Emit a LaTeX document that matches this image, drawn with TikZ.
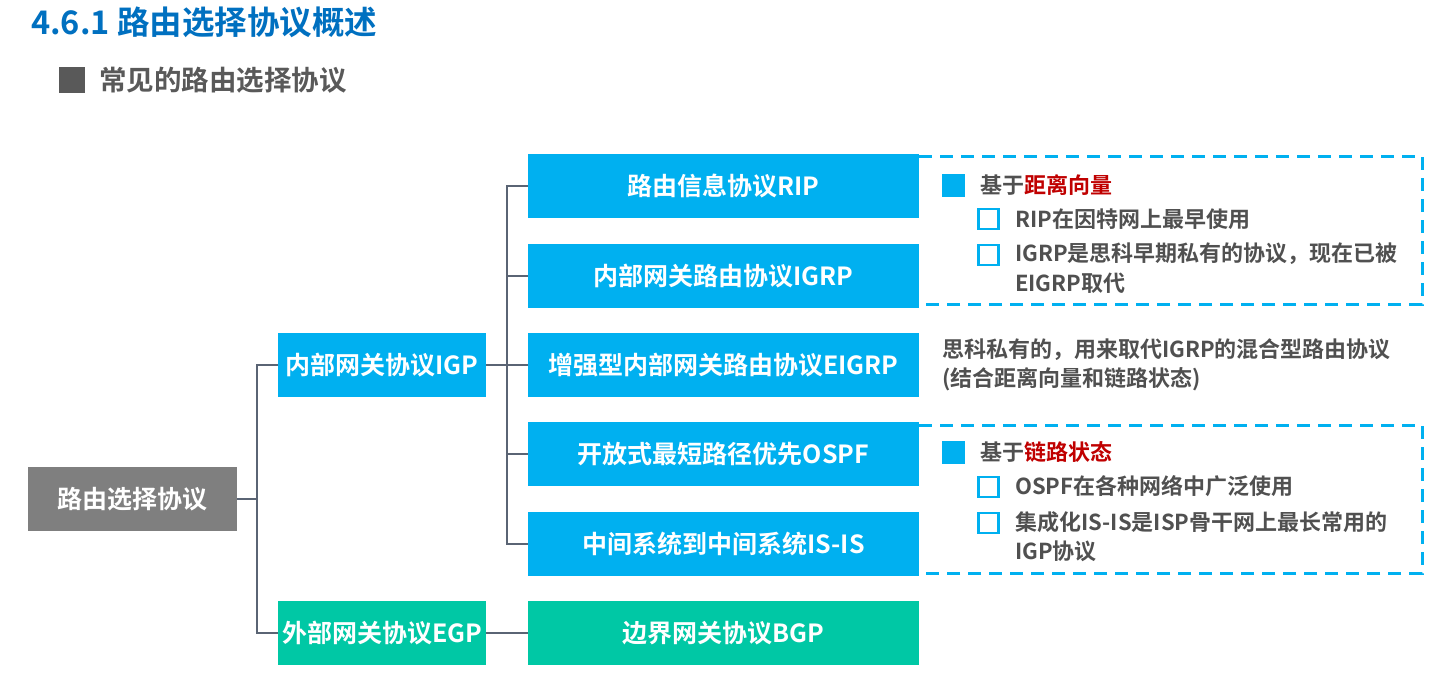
\documentclass[tikz,border=0pt]{standalone}
\usepackage{fontspec}
\setmainfont{Noto Sans CJK SC}[BoldFont={Noto Sans CJK SC Bold}]
\usetikzlibrary{positioning}
\definecolor{cyanbox}{HTML}{00B0F0}
\definecolor{tealbox}{HTML}{00C8A5}
\definecolor{rootgray}{HTML}{7F7F7F}
\definecolor{titleblue}{HTML}{0070C0}
\definecolor{subgray}{HTML}{595959}
\definecolor{txtgray}{HTML}{505050}
\definecolor{linegray}{HTML}{5A6474}
\definecolor{keyred}{HTML}{C00000}
\tikzset{
  boxbase/.style={draw=none, inner sep=0pt, text=white, font=\bfseries\fontsize{25}{29}\selectfont, minimum height=64pt},
  rootbox/.style={boxbase, fill=rootgray, minimum width=209pt},
  midbox/.style={boxbase, fill=cyanbox, minimum width=208pt},
  egpbox/.style={boxbase, fill=tealbox, minimum width=208pt},
  leafbox/.style={boxbase, fill=cyanbox, minimum width=391pt},
  bgpbox/.style={boxbase, fill=tealbox, minimum width=391pt},
  conn/.style={draw=linegray, line width=1.4pt},
  dashbox/.style={draw=cyanbox, line width=3pt, dash pattern=on 13pt off 8pt},
  note/.style={anchor=west, inner sep=0pt, text=txtgray, font=\bfseries\fontsize{22}{26}\selectfont},
  filledsq/.style={fill=cyanbox, minimum size=23pt, inner sep=0pt},
  hollowsq/.style={draw=cyanbox, line width=2.2pt, fill=white, minimum size=20pt, inner sep=0pt},
}
\begin{document}
\begin{tikzpicture}[x=1pt,y=-1pt]
\useasboundingbox (0,0) rectangle (1436,691);
\fill[white] (0,0) rectangle (1436,691);
% titles
\node[anchor=west, inner sep=0pt, text=titleblue, font=\bfseries\fontsize{32.5}{38}\selectfont] (title) at (31,22) {4.6.1 路由选择协议概述};
\node[fill=subgray, minimum size=26pt, inner sep=0pt] (subsq) at (71.5,79.5) {};
\node[anchor=west, inner sep=0pt, text=subgray, font=\bfseries\fontsize{27.5}{32}\selectfont] (subtitle) at (99,80) {常见的路由选择协议};
% boxes
\node[rootbox] (root) at (132.5,499) {路由选择协议};
\node[midbox] (igp) at (382,365) {内部网关协议IGP};
\node[egpbox] (egp) at (382,633) {外部网关协议EGP};
\node[leafbox] (rip) at (723.5,186) {路由信息协议RIP};
\node[leafbox] (igrp) at (723.5,276) {内部网关路由协议IGRP};
\node[leafbox] (eigrp) at (723.5,365) {增强型内部网关路由协议EIGRP};
\node[leafbox] (ospf) at (723.5,454) {开放式最短路径优先OSPF};
\node[leafbox] (isis) at (723.5,544) {中间系统到中间系统IS-IS};
\node[bgpbox] (bgp) at (723.5,633) {边界网关协议BGP};
% connectors
\coordinate (j1) at (257,499);
\coordinate (j2) at (507,365);
\draw[conn] (root.east) -- (j1);
\draw[conn] (j1) |- (igp.west);
\draw[conn] (j1) |- (egp.west);
\draw[conn] (igp.east) -- (j2);
\draw[conn] (j2) |- (rip.west);
\draw[conn] (j2) |- (igrp.west);
\draw[conn] (j2) -- (eigrp.west);
\draw[conn] (j2) |- (ospf.west);
\draw[conn] (j2) |- (isis.west);
\draw[conn] (egp.east) -- (bgp.west);
% dashed boxes
\draw[dashbox] (919,156) -- (1422,156) -- (1422,304) -- (919,304);
\draw[dashbox] (919,425) -- (1422,425) -- (1422,573) -- (919,573);
% box 1 content
\node[filledsq] (s1) at (953.5,185) {};
\node[note] (t1) at (980,185) {基于\textcolor{keyred}{距离向量}};
\node[hollowsq] (c1) at (988.5,219) {};
\node[note] (t2) at (1015,219) {RIP在因特网上最早使用};
\node[hollowsq] (c2) at (988.5,255) {};
\node[note] (t3) at (1015,254) {IGRP是思科早期私有的协议，现在已被};
\node[note] (t4) at (1015,283) {EIGRP取代};
% eigrp note
\node[note] (t5) at (942,350) {思科私有的，用来取代IGRP的混合型路由协议};
\node[note] (t6) at (942,379) {(结合距离向量和链路状态)};
% box 2 content
\node[filledsq] (s2) at (953.5,452) {};
\node[note] (t7) at (980,452) {基于\textcolor{keyred}{链路状态}};
\node[hollowsq] (c3) at (988.5,487) {};
\node[note] (t8) at (1015,486) {OSPF在各种网络中广泛使用};
\node[hollowsq] (c4) at (988.5,523) {};
\node[note] (t9) at (1015,522) {集成化IS-IS是ISP骨干网上最长常用的};
\node[note] (t10) at (1015,551) {IGP协议};
\end{tikzpicture}
\end{document}
